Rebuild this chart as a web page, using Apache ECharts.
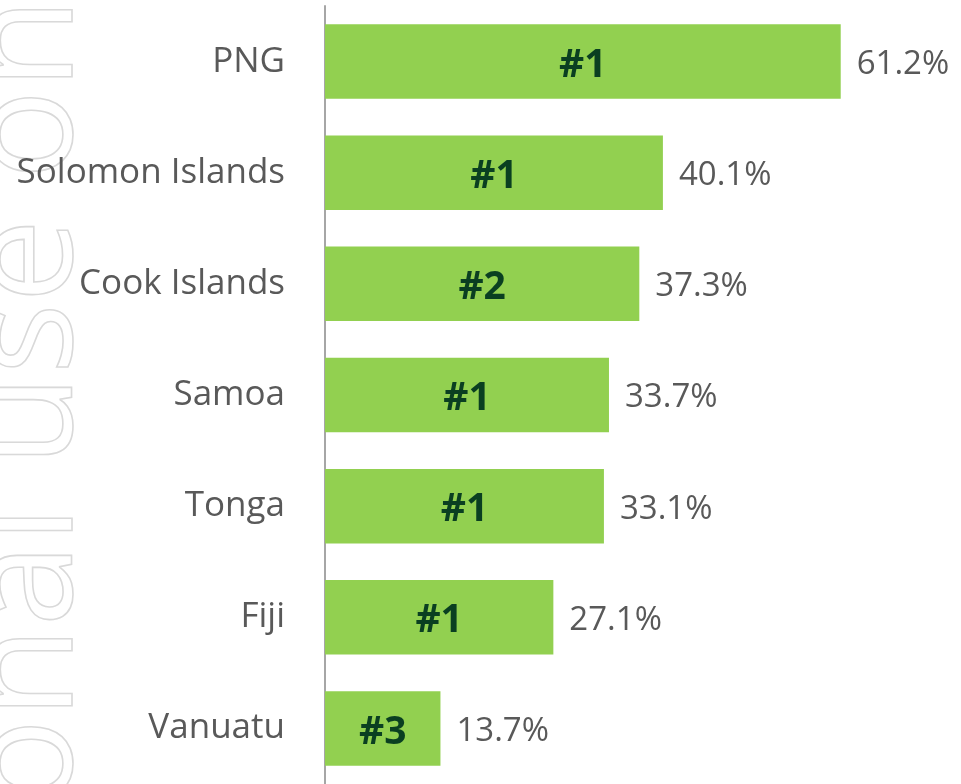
<!DOCTYPE html>
<html>
<head>
    <meta charset="utf-8">
    <title>Rank</title>
    <script src="https://cdn.jsdelivr.net/npm/echarts@6/dist/echarts.min.js"></script>
    <style>
        html, body { margin: 0; padding: 0; background: #fff; }
        #main { width: 961px; height: 784px; }
    </style>
</head>
<body>
    <div id="main"></div>
    <script type="text/javascript">
        var countries = ['PNG', 'Solomon Islands', 'Cook Islands', 'Samoa', 'Tonga', 'Fiji', 'Vanuatu'];
        var shares = [61.2, 40.1, 37.3, 33.7, 33.1, 27.1, 13.7];
        var ranks = ['#1', '#1', '#2', '#1', '#1', '#1', '#3'];

        var myChart = echarts.init(document.getElementById('main'));

        var option = {
            animation: false,
            grid: { left: 325, top: 6, width: 632, height: 784 },
            graphic: [{
                type: 'text',
                x: -46,
                y: 635,
                rotation: Math.PI / 2,
                silent: true,
                z: -10,
                style: {
                    text: 'For personal use only',
                    font: '150px "Open Sans", sans-serif',
                    fill: 'rgba(0,0,0,0)',
                    stroke: '#d9d9d9',
                    lineWidth: 1.6,
                    align: 'center',
                    verticalAlign: 'top'
                }
            }],
            xAxis: {
                type: 'value',
                min: 0,
                max: 75,
                show: false
            },
            yAxis: {
                type: 'category',
                data: countries,
                inverse: true,
                axisLine: { show: true, lineStyle: { color: '#a6a6a6', width: 2 } },
                axisTick: { show: false },
                axisLabel: {
                    margin: 40,
                    color: '#595959',
                    fontSize: 35,
                    padding: [5, 0, 0, 0],
                    fontFamily: '"Open Sans", sans-serif'
                }
            },
            series: [
                {
                    name: 'rank',
                    type: 'bar',
                    data: shares,
                    barCategoryGap: '33%',
                    itemStyle: { color: '#92d050' },
                    label: {
                        show: true,
                        position: 'inside',
                        offset: [0, 4],
                        formatter: function (p) { return ranks[p.dataIndex]; },
                        color: '#0a3f21',
                        fontSize: 39,
                        fontWeight: 'bold',
                        fontFamily: '"Noto Sans", sans-serif'
                    }
                },
                {
                    name: 'share',
                    type: 'bar',
                    data: shares,
                    barGap: '-100%',
                    barCategoryGap: '33%',
                    itemStyle: { color: 'rgba(0,0,0,0)' },
                    label: {
                        show: true,
                        position: 'right',
                        distance: 16,
                        offset: [0, 3],
                        formatter: function (p) { return p.value.toFixed(1) + '%'; },
                        color: '#595959',
                        fontSize: 33,
                        fontFamily: '"Open Sans", sans-serif'
                    }
                }
            ]
        };

        myChart.setOption(option);
    </script>
</body>
</html>
